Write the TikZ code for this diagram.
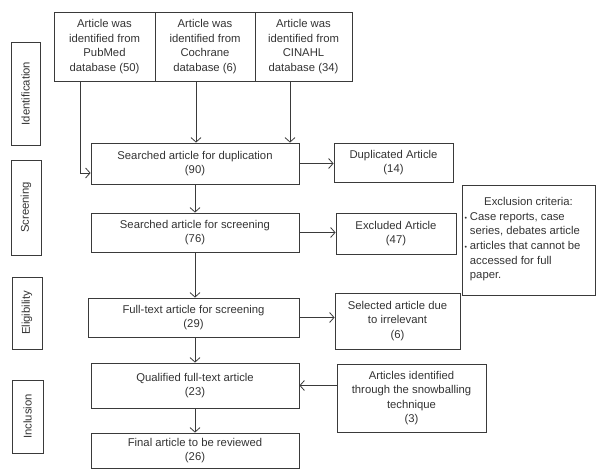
\documentclass[tikz,border=0pt]{standalone}
\usepackage{fontspec}
\setmainfont{Liberation Sans}
\usepackage{tikz}
\usetikzlibrary{arrows.meta}
\definecolor{ink}{HTML}{333333}
\definecolor{edge}{HTML}{3A3A3A}
\tikzset{
  box/.style={draw=edge, line width=0.8pt, align=center, inner sep=1pt,
    text=ink, font=\fontsize{11.3}{14.6}\selectfont},
  stage/.style={box, rotate=90},
  arr/.style={draw=edge, line width=0.8pt, -{Straight Barb[length=4.5pt,width=10pt]}}
}

\begin{document}
\begin{tikzpicture}[x=1pt, y=-1pt]
  \useasboundingbox (0,0) rectangle (596,470);
  % phase labels on the left
  \node[stage, minimum width=103pt, minimum height=29pt] (idf) at (25.5,93.5) {Identification};
  \node[stage, minimum width=95pt, minimum height=30pt] (scrl) at (26,207.5) {Screening};
  \node[stage, minimum width=72pt, minimum height=30pt] (elg) at (27,313) {Eligibility};
  \node[stage, minimum width=73pt, minimum height=31pt] (inc) at (27.5,416.5) {Inclusion};

  % databases
  \node[box, minimum width=101pt, minimum height=69pt] (pub) at (104.5,46.5)
    {Article was\\identified from\\PubMed\\database (50)};
  \node[box, minimum width=100pt, minimum height=69pt] (coch) at (205,46.5)
    {Article was\\identified from\\Cochrane\\database (6)};
  \node[box, minimum width=97pt, minimum height=69pt] (cin) at (303.5,46.5)
    {Article was\\identified from\\CINAHL\\database (34)};

  % main column
  \node[box, minimum width=208pt, minimum height=41pt] (dup) at (195,163.5)
    {Searched article for duplication\\(90)};
  \node[box, minimum width=208pt, minimum height=39pt] (scr) at (195,232.5)
    {Searched article for screening\\(76)};
  \node[box, minimum width=211pt, minimum height=39pt] (full) at (193.5,317.5)
    {Full-text article for screening\\(29)};
  \node[box, minimum width=208pt, minimum height=45pt] (qual) at (195,385.5)
    {Qualified full-text article\\(23)};
  \node[box, minimum width=208pt, minimum height=35pt] (fin) at (195,450.5)
    {Final article to be reviewed\\(26)};

  % side boxes
  \node[box, minimum width=119pt, minimum height=39pt] (dupx) at (393.5,162.5)
    {Duplicated Article\\(14)};
  \node[box, minimum width=120pt, minimum height=41pt] (excl) at (396,233.5)
    {Excluded Article\\(47)};
  \node[box, minimum width=125pt, minimum height=56pt] (sel) at (397.5,321)
    {Selected article due\\to irrelevant\\(6)};
  \node[box, minimum width=149pt, minimum height=68pt] (snow) at (411.5,398)
    {Articles identified\\through the snowballing\\technique\\(3)};
  \node[box, minimum width=133pt, minimum height=110pt, align=left] (crit) at (528.5,240)
    {\makebox[128pt]{Exclusion criteria:}\\[4pt]
     \begin{tabular}{@{}l@{\hspace{3pt}}l@{}}
       \scriptsize\textbullet & Case reports, case\\
        & series, debates article\\
       \scriptsize\textbullet & articles that cannot be\\
        & accessed for full\\
        & paper.
     \end{tabular}};

  % connectors
  \draw[arr] ([xshift=-24.5pt]pub.south) |- ([yshift=-9.5pt]dup.west);
  \draw[arr] ([xshift=-9pt]coch.south) -- ([xshift=-9pt]coch.south |- dup.north);
  \draw[arr] ([xshift=-13.5pt]cin.south) -- ([xshift=-13.5pt]cin.south |- dup.north);
  \draw[arr] (dup.east) -- (dup.east -| dupx.west);
  \draw[arr] (dup.south) -- (scr.north);
  \draw[arr] (scr.east) -- (scr.east -| excl.west);
  \draw[arr] (scr.south) -- (scr.south |- full.north);
  \draw[arr] (full.east) -- (full.east -| sel.west);
  \draw[arr] (full.south -| qual.south) -- (qual.north);
  \draw[arr] (snow.west |- qual.east) -- (qual.east);
  \draw[arr] (qual.south) -- (fin.north);
\end{tikzpicture}
\end{document}
